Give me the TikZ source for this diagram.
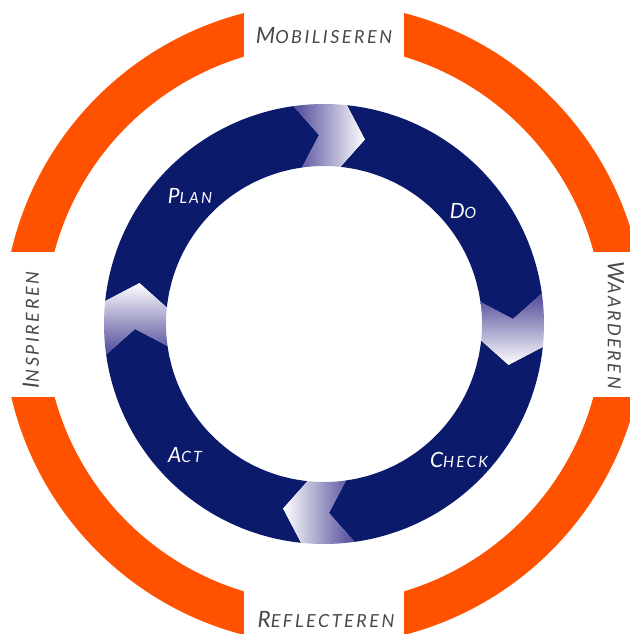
\documentclass[tikz,border=0pt]{standalone}
\usepackage{fontspec}
\setmainfont{Lato}
\newfontfamily\ringfont[LetterSpace=14]{Lato}
\definecolor{cycleorange}{RGB}{255,82,0}
\definecolor{cyclenavy}{RGB}{12,26,108}
\definecolor{chevronpurple}{RGB}{78,72,152}
\definecolor{labelgray}{RGB}{72,72,72}
% fake small capitals: a large initial followed by smaller capitals
\newcommand\capsword[4]{{\fontsize{#3}{#3}\selectfont #1}{\fontsize{#4}{#4}\selectfont #2}}
\begin{document}
\begin{tikzpicture}[x=1pt,y=1pt,
  outerlabel/.style={text=labelgray, font=\ringfont\itshape, inner sep=0pt},
  innerlabel/.style={text=white, font=\ringfont\itshape, inner sep=0pt}]
\useasboundingbox (-324,-310) rectangle (305,324);
% outer orange ring, split into four quarters
\begin{scope}
  \clip (-400,72) rectangle (-80,400) (80,72) rectangle (400,400)
        (-400,-73) rectangle (-80,-400) (80,-73) rectangle (400,-400);
  \fill[cycleorange, even odd rule] (0,0) circle[radius=321] (0,0) circle[radius=279];
\end{scope}
% inner PDCA ring: dark arrow segments
\foreach \c in {90,0,-90,-180}{
  \pgfmathsetmacro\A{\c-6}
  \pgfmathsetmacro\B{\c-82}
  \fill[cyclenavy] (\A:220) arc[start angle=\A, end angle=\B, radius=220]
    -- (\B-6.5:189) -- (\B:158) arc[start angle=\B, end angle=\A, radius=158]
    -- (\A-6.5:189) -- cycle;
}
% shaded chevrons between the segments
\foreach \c in {90,0,-90,-180}{
  \pgfmathsetmacro\Ab{\c+8}
  \pgfmathsetmacro\Af{\c-6}
  \shade[top color=chevronpurple, bottom color=white, shading angle=\c]
    (\Ab:220) arc[start angle=\Ab, end angle=\Af, radius=220]
    -- (\Af-6.5:189) -- (\Af:158) arc[start angle=\Af, end angle=\Ab, radius=158]
    -- (\Ab-6.5:189) -- cycle;
}
% outer labels
\node[outerlabel] (mob) at (0,288) {\capsword{M}{OBILISEREN}{22.5}{18}};
\node[outerlabel] (ref) at (2,-296) {\capsword{R}{EFLECTEREN}{22.5}{18}};
\node[outerlabel, rotate=90] (insp) at (-293,-6) {\capsword{I}{NSPIREREN}{22.5}{18}};
\node[outerlabel, rotate=-90] (waard) at (292,-1) {\capsword{W}{AARDEREN}{22.5}{18}};
% inner labels
\node[innerlabel] (plan) at (-134,128) {\capsword{P}{LAN}{21}{15.5}};
\node[innerlabel] (do) at (139,113) {\capsword{D}{O}{21}{15.5}};
\node[innerlabel] (check) at (135,-136) {\capsword{C}{HECK}{21}{15.5}};
\node[innerlabel] (act) at (-139,-131) {\capsword{A}{CT}{21}{15.5}};
\end{tikzpicture}
\end{document}
